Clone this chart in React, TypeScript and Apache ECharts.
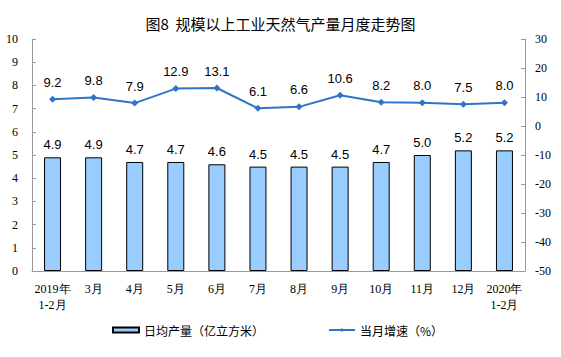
import React, { useEffect, useRef } from "react";
import * as echarts from "echarts";

const categories = ["2019年\n1-2月", "3月", "4月", "5月", "6月", "7月", "8月", "9月", "10月", "11月", "12月", "2020年\n1-2月"];
const dailyOutput = [4.9, 4.9, 4.7, 4.7, 4.6, 4.5, 4.5, 4.5, 4.7, 5.0, 5.2, 5.2];
const growthRate = [9.2, 9.8, 7.9, 12.9, 13.1, 6.1, 6.6, 10.6, 8.2, 8.0, 7.5, 8.0];

export default function App() {
  const ref = useRef<HTMLDivElement>(null);
  useEffect(() => {
    if (!ref.current) return;
    const chart = echarts.init(ref.current, undefined, { renderer: "svg" });
    const axisLabelStyle = { fontFamily: "Liberation Serif", fontSize: 12, color: "#000" };
    chart.setOption({
      animation: false,
      backgroundColor: "#fff",
      title: {
        text: "图8  规模以上工业天然气产量月度走势图",
        left: "center",
        top: 11,
        textStyle: { fontFamily: "Noto Sans CJK SC", fontSize: 15, fontWeight: "normal", color: "#000" },
      },
      legend: {
        top: 319,
        left: 107,
        itemGap: 64,
        itemWidth: 26,
        itemHeight: 5,
        textStyle: { fontFamily: "Noto Sans CJK SC", fontSize: 12, color: "#000" },
        data: [
          { name: "日均产量（亿立方米）", icon: "rect" },
          { name: "当月增速（%）" },
        ],
      },
      grid: { left: 32, right: 36, top: 39, bottom: 86 },
      xAxis: {
        type: "category",
        data: categories,
        axisLine: { lineStyle: { color: "#999" } },
        axisTick: { inside: true, length: 4, lineStyle: { color: "#999" } },
        axisLabel: { ...axisLabelStyle, interval: 0, lineHeight: 16, margin: 10 },
      },
      yAxis: [
        {
          type: "value",
          min: 0,
          max: 10,
          interval: 1,
          splitLine: { show: false },
          axisLine: { show: true, lineStyle: { color: "#999" } },
          axisTick: { show: true, inside: true, length: 4, lineStyle: { color: "#999" } },
          axisLabel: { ...axisLabelStyle, margin: 14 },
        },
        {
          type: "value",
          min: -50,
          max: 30,
          interval: 10,
          splitLine: { show: false },
          axisLine: { show: true, lineStyle: { color: "#999" } },
          axisTick: { show: true, inside: true, length: 4, lineStyle: { color: "#999" } },
          axisLabel: { ...axisLabelStyle, margin: 10 },
        },
      ],
      series: [
        {
          name: "日均产量（亿立方米）",
          type: "bar",
          data: dailyOutput,
          barWidth: 17,
          itemStyle: { color: "#99CCFF", borderColor: "#000", borderWidth: 1 },
          label: {
            show: true,
            position: "top",
            distance: 6,
            fontFamily: "Liberation Sans",
            fontSize: 13,
            color: "#000",
            formatter: (p: any) => p.value.toFixed(1),
          },
        },
        {
          name: "当月增速（%）",
          type: "line",
          yAxisIndex: 1,
          data: growthRate,
          symbol: "diamond",
          symbolSize: 7,
          lineStyle: { color: "#2E75C8", width: 2 },
          itemStyle: { color: "#2E75C8" },
          label: {
            show: true,
            position: "top",
            distance: 7,
            fontFamily: "Liberation Sans",
            fontSize: 13,
            color: "#000",
            formatter: (p: any) => p.value.toFixed(1),
          },
        },
      ],
    });
    return () => chart.dispose();
  }, []);
  return <div ref={ref} style={{ position: "absolute", left: 0, top: 0, width: 561, height: 357 }} />;
}
